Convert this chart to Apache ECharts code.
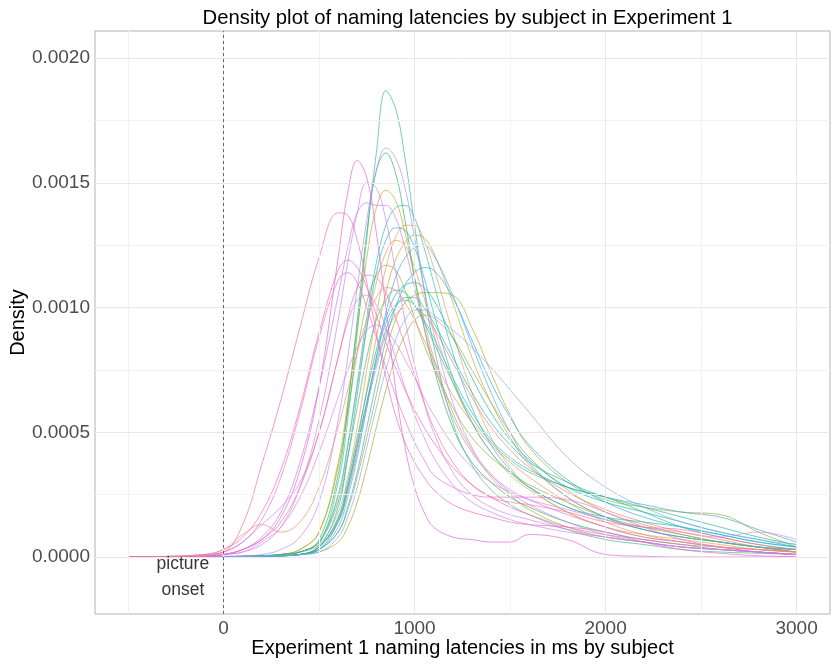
<!DOCTYPE html>
<html><head><meta charset="utf-8">
<script src="https://cdn.jsdelivr.net/npm/echarts@6/dist/echarts.min.js"></script>
<style>html,body{margin:0;padding:0;background:#fff}#c{width:834px;height:664px}</style>
</head><body><div id="c"></div>
<script>
// latency grid (ms) shared by all subject curves
const xs = [-500,-300,-100,0,100,200,300,400,500,600,650,700,750,800,850,900,950,1000,1050,1100,1200,1300,1400,1500,1600,1800,2000,2200,2400,2600,2800,3000];
// density values, in units of 1e-5
const G1  = [0,0,0,0.1,0.2,0.3,0.5,1,5,30, 55,90,128,162,187,180,160,133,107,85, 54,37,27,21,17, 11,7,5,3,2,1.5,1];
const G2  = [0,0,0,0.1,0.2,0.4,1,2,7,33, 60,95,130,155,162,154,135,112,92,76, 52,38,30,24,20, 14,10,7,5,3,2,1];
const G3  = [0,0,0,0.1,0.3,0.5,1,3,10,38, 62,92,120,140,147,143,130,112,95,80, 58,43,32,25,19, 12,8,6,4,3,2,1];
const G4  = [0,0,0,0.1,0.2,0.4,0.8,2,6,25, 45,70,96,118,133,140,141,136,124,110, 82,60,45,35,28, 20,15,11,8,6,4,3];
const G5  = [0,0,0,0.1,0.2,0.3,0.5,1,4,20, 40,65,92,114,127,132,131,124,112,98, 72,54,42,34,28, 20,16,14,12,9,6,4];
const G6  = [0,0,0,0.1,0.3,0.5,1,2,5,18, 32,52,75,97,116,128,133,133,127,116, 90,66,48,36,28, 18,12,8,6,4,3,2];
const G7  = [0,0,0,0.1,0.2,0.3,0.5,1,4,15, 28,46,67,88,106,119,126,129,128,122, 102,80,62,48,37, 24,16,11,8,6,4,3];
const G8  = [0,0,0,0.1,0.3,0.5,1,2,6,24, 44,68,92,110,122,127,125,116,104,92, 70,54,42,33,27, 18,12,9,7,5,3,2];
const G9  = [0,0,0,0.1,0.2,0.3,0.5,1,3,12, 24,40,60,80,98,112,120,124,125,121, 105,85,66,50,38, 24,16,11,8,6,4,3];
const G10 = [0,0,0,0.1,0.2,0.3,0.5,1,3,10, 20,34,52,70,87,100,109,114,116,115, 104,87,70,56,45, 31,22,16,12,9,6,4];
const G11 = [0,0,0,0.1,0.3,0.5,1,3,10,36, 58,82,102,113,117,115,107,96,85,76, 60,48,40,34,29, 22,16,12,9,6,4,2];
const G12 = [0,0,0,0.1,0.2,0.3,0.5,1,4,16, 30,48,66,83,96,105,109,110,108,103, 88,72,58,47,39, 28,22,18,14,10,7,4];
const G13 = [0,0,0,0.1,0.2,0.3,0.5,1,3,10, 19,32,48,65,82,95,102,105,106,106, 105,92,74,57,44, 30,23,20,18,17,10,4];
const G14 = [0,0,0,0.1,0.3,0.5,1,2,6,22, 40,60,80,95,103,107,106,101,94,86, 70,56,46,39,34, 28,24,18,12,8,5,3];
const G15 = [0,0,0,0.1,0.2,0.3,0.5,1,4,15, 28,45,62,78,91,100,104,104,100,94, 80,66,54,45,38, 30,24,20,16,12,8,5];
const G16 = [0,0,0,0.1,0.2,0.3,0.5,1,3,14, 27,44,62,80,94,101,103,101,95,88, 72,58,47,40,35, 28,24,21,18,16,11,6];
const G17 = [0,0,0,0.1,0.2,0.3,0.4,1,2,8, 16,28,44,60,75,87,95,99,99,97, 91,84,76,67,58, 40,28,20,14,10,7,5];
const G18 = [0,0,0,0.1,0.2,0.3,0.4,1,2,6, 12,22,36,52,67,80,89,95,97,96, 88,75,62,50,40, 27,18,13,9,6,4,2];
const R1  = [0,0,0,0.1,0.2,0.4,0.6,1,4,14, 26,42,60,76,89,97,100,100,97,92, 78,64,52,43,36, 26,19,14,10,7,4,2];
const P1  = [0,0,0.3,1,3,7,16,35,68,120, 146,159,152,130,100,68,44,28,18,12, 8,7,6,6,9, 7,1,0.3,0,0,0,0];
const P2  = [0,0,0.3,1,2,5,12,28,55,95, 118,138,150,148,135,115,95,77,62,50, 34,25,20,17,15, 11,8,6,4,3,2,1];
const P3  = [0,0.2,1,2,13,37,63,92,120,138, 137,127,110,90,72,57,46,38,32,27, 21,18,16,14,13, 12,10,6,3,1.5,0.5,0.2];
const P4  = [0,0,0,0.3,0.5,1,3,8,22,55, 80,108,135,155,164,160,148,128,108,90, 62,44,33,26,21, 14,9,6,4,3,2,1];
const P5  = [0,0,0.3,1,3,8,18,38,68,105, 124,138,142,141,141,136,124,108,92,78, 56,42,33,27,23, 17,12,8,6,4,2,1];
const P6  = [0,0.3,1,3,8,18,35,60,90,115, 119,116,108,97,86,76,67,59,52,46, 36,29,24,20,17, 12,9,7,5,4,3,2];
const P7  = [0,0,0.5,2,6,15,32,58,88,111, 114,110,100,88,76,65,55,46,39,33, 28,25,24,24,24, 23,18,12,7,4,2,1];
const P8  = [0,0,0.3,1,3,7,14,28,50,80, 96,108,113,112,106,96,85,73,62,52, 38,29,24,22,21, 18,14,12,11,8,5,3];
const P9  = [0,0,0.3,1,2,6,12,24,42,64, 75,84,91,93,91,86,79,72,64,57, 45,36,30,26,23, 19,15,12,10,8,10,7];
const P10 = [0,0.2,1,3,9,13,10,14,28,52, 67,82,95,104,108,107,102,95,87,79, 65,54,45,38,32, 22,14,9,6,4,3,2];
const P11 = [0,0,0.5,2,6,13,20,30,50,80, 94,103,105,101,92,80,68,57,48,40, 29,22,18,15,13, 10,8,6,4,3,2,1];

const subjects = [
  ['R1',R1,'#F07B6A'],['G6',G6,'#E69B4E'],['G8',G8,'#D9A33A'],['G3',G3,'#C8A02A'],['G7',G7,'#C4A62E'],
  ['G13',G13,'#ABA32A'],['G18',G18,'#A4A630'],['G11',G11,'#8FAE2E'],['G2',G2,'#26B35A'],['G14',G14,'#3DB86A'],
  ['G1',G1,'#33B992'],['G15',G15,'#19B9A2'],['G12',G12,'#12B5B0'],['G4',G4,'#22BBC7'],['G5',G5,'#1FB3C9'],
  ['G16',G16,'#2EAED6'],['G10',G10,'#1FAFE0'],['G9',G9,'#4DA6E6'],['G17',G17,'#86A8E8'],['P4',P4,'#B38BF5'],
  ['P5',P5,'#C87BF0'],['P11',P11,'#CF80EC'],['P2',P2,'#D07DEA'],['P9',P9,'#D883E5'],['P1',P1,'#E05FD8'],
  ['P7',P7,'#E56FD8'],['P3',P3,'#EE65C0'],['P6',P6,'#F567B5'],['P8',P8,'#FB6C9F'],['P10',P10,'#E88E72']
];
const xTicks = [0,1000,2000,3000];
const xMinor = [-500,500,1500,2500];
const yTicks = [0,50,100,150,200];        // units of 1e-5
const yMinor = [25,75,125,175];

const FONT = 'Liberation Sans, Arial, sans-serif';
const chart = echarts.init(document.getElementById('c'), null, {renderer:'canvas'});

const series = [];
series.push({
  type:'line', data:[[-500,0]], showSymbol:false, silent:true, z:1,
  lineStyle:{opacity:0},
  markLine:{silent:true, symbol:'none', animation:false, label:{show:false},
    data:[
      ...xMinor.map(v=>({xAxis:v, lineStyle:{color:'#f2f2f2', width:1, type:'solid'}})),
      ...yMinor.map(v=>({yAxis:v, lineStyle:{color:'#f2f2f2', width:1, type:'solid'}})),
      ...xTicks.map(v=>({xAxis:v, lineStyle:{color:'#e8e8e8', width:1, type:'solid'}})),
      ...yTicks.map(v=>({yAxis:v, lineStyle:{color:'#e8e8e8', width:1, type:'solid'}}))
    ]}
});
subjects.forEach(([name, vals, col]) => {
  series.push({
    name, type:'line', smooth:0.4, showSymbol:false, silent:true, z:3,
    data: xs.map((x,i)=>[x, vals[i]]),
    lineStyle:{color:col, width:0.9, opacity:0.75}
  });
});
series.push({
  type:'line', data:[[0,0]], showSymbol:false, silent:true, z:5,
  lineStyle:{opacity:0},
  markLine:{silent:true, symbol:'none', animation:false, label:{show:false},
    data:[{xAxis:0, lineStyle:{color:'#444', width:0.8, type:[3,3]}}]}
});
series.push({
  type:'scatter', data:[[-213,-8.2]], symbolSize:0, silent:true, z:6,
  label:{show:true, position:'inside', formatter:'picture\nonset', color:'#000',
    fontSize:17.5, fontFamily:FONT, lineHeight:26, align:'center'}
});

chart.setOption({
  animation:false,
  backgroundColor:'#fff',
  title:{text:'Density plot of naming latencies by subject in Experiment 1',
    left:462.5, top:3, textAlign:'center',
    textStyle:{fontFamily:FONT, fontSize:20.3, fontWeight:'normal', color:'#000'}},
  grid:{left:95, right:4, top:31, bottom:50, show:true, borderColor:'#b3b3b3', borderWidth:1,
    containLabel:false, outerBoundsMode:'none'},
  xAxis:{type:'value', min:-673, max:3175,
    name:'Experiment 1 naming latencies in ms by subject', nameLocation:'middle', nameGap:24,
    nameMoveOverlap:false,
    nameTextStyle:{fontFamily:FONT, fontSize:20, color:'#000'},
    axisLine:{show:false}, splitLine:{show:false},
    axisTick:{show:true, length:4, lineStyle:{color:'#b3b3b3'}, customValues:xTicks},
    axisLabel:{customValues:xTicks, fontFamily:FONT, fontSize:19, color:'#4d4d4d', margin:5,
      formatter:v=>String(v)}},
  yAxis:{type:'value', min:-22.85, max:210.9,
    name:'Density', nameLocation:'middle', nameGap:67, nameRotate:90,
    nameMoveOverlap:false,
    nameTextStyle:{fontFamily:FONT, fontSize:20, color:'#000'},
    axisLine:{show:false}, splitLine:{show:false},
    axisTick:{show:true, length:4, lineStyle:{color:'#b3b3b3'}, customValues:yTicks},
    axisLabel:{customValues:yTicks, fontFamily:FONT, fontSize:19, color:'#4d4d4d', margin:5,
      formatter:v=>(v/1e5).toFixed(4)}},
  series
});
</script></body></html>
